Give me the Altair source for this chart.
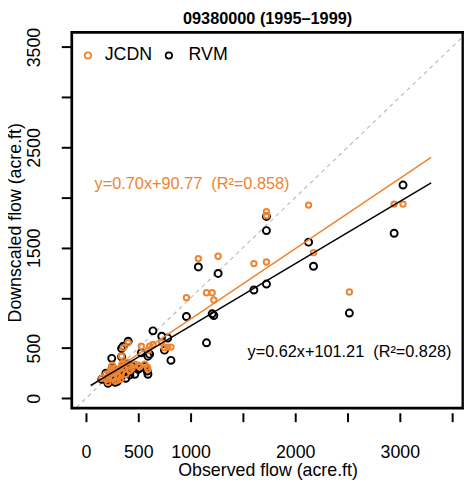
import altair as alt
import pandas as pd

# ---- data ----
observed = [1725, 1725, 1725, 1605, 2128, 2946, 3031, 2175, 2518, 1074,
            1263, 960, 1152, 1206, 1222, 812, 781, 724, 640, 750,
            608, 529, 592, 403, 356, 340, 466, 498, 561, 592,
            514, 585, 246, 340, 419, 151, 200, 220, 240, 260,
            280, 300, 320, 340, 360, 380, 400, 420, 250, 300,
            230, 350, 270, 190, 310, 390, 440, 280, 330, 210]
jcdn = [1860, 1820, 1358, 1342, 1925, 1935, 1935, 1451, 1059, 1392,
        1415, 1003, 1052, 1052, 980, 510, 510, 553, 536, 503,
        519, 519, 477, 553, 503, 420, 339, 329, 339, 289,
        316, 312, 300, 330, 280, 200, 190, 220, 250, 200,
        270, 230, 290, 260, 310, 240, 330, 280, 330, 180,
        270, 350, 300, 240, 210, 360, 300, 170, 190, 160]
rvm = [1812, 1671, 1138, 1079, 1556, 1645, 2125, 1316, 849, 1309,
       1244, 815, 553, 842, 825, 378, 600, 618, 672, 480,
       440, 454, 420, 569, 519, 497, 240, 289, 316, 240,
       300, 272, 398, 414, 233, 190, 180, 200, 230, 210,
       250, 260, 240, 220, 280, 200, 300, 260, 300, 170,
       240, 320, 270, 250, 190, 340, 320, 160, 230, 150]

series = ["JCDN", "RVM"]
slopes = [0.70, 0.62]
intercepts = [90.77, 101.21]
r2 = [0.858, 0.828]
fit_x_range = [45, 3300]
one_to_one = [-200, 3700]

x_ticks = [0, 500, 1000, 1500, 2000, 2500, 3000, 3500]
y_ticks = [0, 500, 1000, 1500, 2000, 2500, 3000, 3500]
x_hidden = [1500, 2500, 3500]
y_hidden = [1000, 2000, 3000]

ann_x = [82, 1544]
ann_y = [2135, 457]

ORANGE = "#EE8431"
colors = [ORANGE, "black"]
FONT = "Liberation Sans"
W, H = 398, 382

xdom = [-142, 3614]
ydom = [-105, 3652]

# legend item pixel offsets inside the plot (symbol x, label x, row y)
legend_sym_x = [17, 99]
legend_lab_x = [34, 119]
legend_y = 24

# ---- tables ----
pts = pd.DataFrame({
    "obs": observed * 2,
    "sim": jcdn + rvm,
    "series": ["JCDN"] * len(jcdn) + ["RVM"] * len(rvm),
})
fit = pd.DataFrame([
    {"series": s, "obs": xv, "m": m, "b": b}
    for s, m, b in zip(series, slopes, intercepts) for xv in fit_x_range
])
ann = pd.DataFrame({
    "series": series,
    "x": ann_x,
    "y": ann_y,
    "label": [f"y={m:.2f}x+{b:.2f} \u00a0(R\u00b2={r:.3f})" for m, b, r in zip(slopes, intercepts, r2)],
})
diag = pd.DataFrame({"obs": one_to_one, "sim": one_to_one})

# plot frame, inset by about one pixel so no clipping can hide it
dx = (xdom[1] - xdom[0]) / W
dy = (ydom[1] - ydom[0]) / H
fx0, fx1 = xdom[0] + dx, xdom[1] - 1.5 * dx
fy0, fy1 = ydom[0] + dy, ydom[1] - dy
frame_df = pd.DataFrame({
    "fx": [fx0, fx1, fx1, fx0, fx0],
    "fy": [fy0, fy0, fy1, fy1, fy0],
    "k": [0, 1, 2, 3, 4],
})
one_row = pd.DataFrame({"k": [0]})

hide_x = " || ".join(f"datum.value == {v}" for v in x_hidden)
hide_y = " || ".join(f"datum.value == {v}" for v in y_hidden)

xscale = alt.Scale(domain=xdom, nice=False, zero=False)
yscale = alt.Scale(domain=ydom, nice=False, zero=False)
cscale = alt.Scale(domain=series, range=colors)

xaxis = alt.Axis(values=x_ticks, format="d", grid=False, domain=False, offset=4,
                 tickSize=9, tickWidth=2, tickColor="black",
                 labelFontSize=18, labelFont=FONT, labelColor="black", labelPadding=22,
                 labelExpr=f"({hide_x}) ? '' : datum.label", labelOverlap=False,
                 title="Observed flow (acre.ft)", titleFontSize=18, titleFont=FONT,
                 titleFontWeight="normal", titleColor="black",
                 titleBaseline="middle", titleAlign="center", titleX=W / 2, titleY=59)
yaxis = alt.Axis(values=y_ticks, format="d", grid=False, domain=False, offset=0,
                 tickSize=10, tickWidth=2, tickColor="black",
                 labelFontSize=18, labelFont=FONT, labelColor="black", labelPadding=18,
                 labelAngle=270, labelAlign="center", labelBaseline="bottom",
                 labelExpr=f"({hide_y}) ? '' : datum.label", labelOverlap=False,
                 title="Downscaled flow (acre.ft)", titleFontSize=18, titleFont=FONT,
                 titleFontWeight="normal", titleColor="black",
                 titleAngle=270, titleAlign="center", titleBaseline="middle",
                 titleX=-56, titleY=193)

diag_layer = alt.Chart(diag).mark_line(
    color="#BBBBBB", strokeDash=[4, 4], strokeWidth=1.2, clip=True
).encode(
    x=alt.X("obs:Q", scale=xscale, axis=xaxis),
    y=alt.Y("sim:Q", scale=yscale, axis=yaxis),
)

base_pts = alt.Chart(pts)
rvm_pts = base_pts.transform_filter(alt.datum.series == "RVM").mark_point(
    shape="circle", filled=False, strokeWidth=2, size=50, opacity=1, clip=True
).encode(
    x=alt.X("obs:Q", scale=xscale),
    y=alt.Y("sim:Q", scale=yscale),
    color=alt.Color("series:N", scale=cscale, legend=None),
)
jcdn_pts = base_pts.transform_filter(alt.datum.series == "JCDN").mark_point(
    shape="circle", filled=False, strokeWidth=2, size=30, opacity=1, clip=True
).encode(
    x=alt.X("obs:Q", scale=xscale),
    y=alt.Y("sim:Q", scale=yscale),
    color=alt.Color("series:N", scale=cscale, legend=None),
)

lines = alt.Chart(fit).transform_calculate(
    sim="datum.m * datum.obs + datum.b"
).mark_line(strokeWidth=1.5).encode(
    x=alt.X("obs:Q", scale=xscale),
    y=alt.Y("sim:Q", scale=yscale),
    color=alt.Color("series:N", scale=cscale, legend=None),
    detail="series:N",
)

texts = alt.Chart(ann).mark_text(
    align="left", baseline="middle", fontSize=16.5, font=FONT
).encode(
    x=alt.X("x:Q", scale=xscale),
    y=alt.Y("y:Q", scale=yscale),
    text="label:N",
    color=alt.Color("series:N", scale=cscale, legend=None),
)

frame = alt.Chart(frame_df).mark_line(color="black", strokeWidth=2, opacity=1).encode(
    x=alt.X("fx:Q", scale=xscale),
    y=alt.Y("fy:Q", scale=yscale),
    order="k:Q",
)

legend_layers = []
for name, col, sx, lx in zip(series, colors, legend_sym_x, legend_lab_x):
    legend_layers.append(
        alt.Chart(one_row).mark_point(shape="circle", filled=False, strokeWidth=1.8,
                                      size=42, color=col, opacity=1)
        .encode(x=alt.value(sx), y=alt.value(legend_y))
    )
    legend_layers.append(
        alt.Chart(one_row).mark_text(text=name, align="left", baseline="middle",
                                     fontSize=18, font=FONT, color="black")
        .encode(x=alt.value(lx), y=alt.value(legend_y))
    )

chart = alt.layer(diag_layer, rvm_pts, jcdn_pts, lines, texts, frame, *legend_layers).properties(
    width=W, height=H,
    title=alt.TitleParams("09380000 (1995\u20131999)", fontSize=16.5, font=FONT,
                          fontWeight="bold", anchor="middle", offset=0, color="black"),
    autosize=alt.AutoSizeParams(type="none"),
    padding={"left": 64, "top": 21, "right": 0, "bottom": 70},
    background="white",
).configure_view(stroke="black", strokeWidth=1.5)

chart.save("out.html", embed_options={"renderer": "svg", "actions": False})
